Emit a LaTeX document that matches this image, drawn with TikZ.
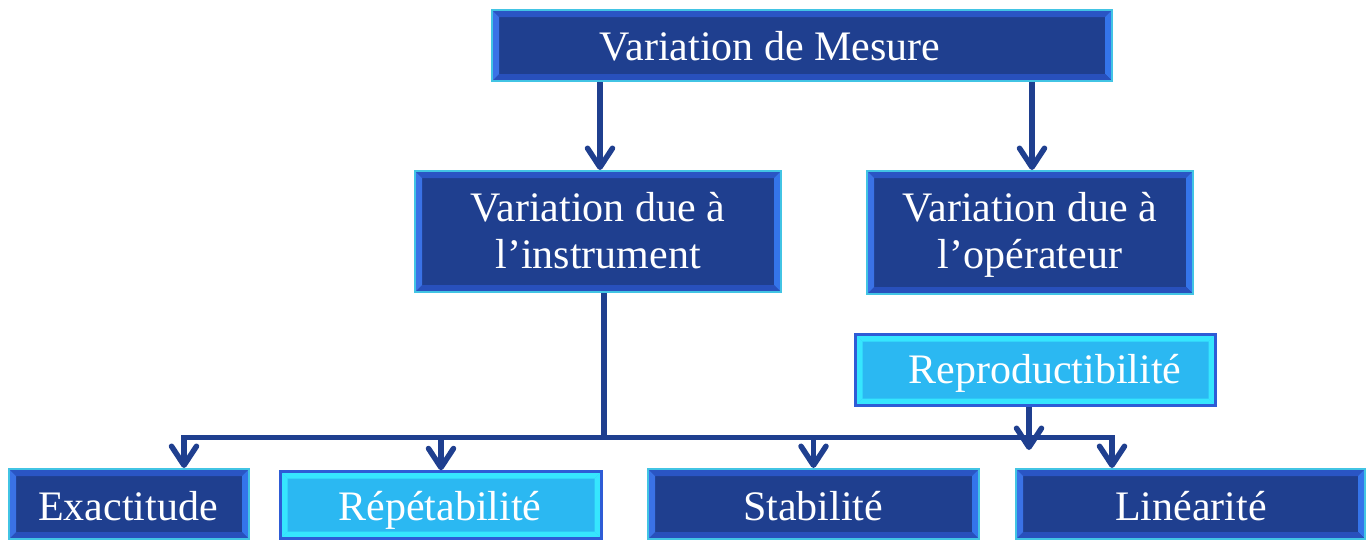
\documentclass[tikz,border=0pt]{standalone}
\usepackage{fontspec}
\setmainfont{Liberation Serif}
\usetikzlibrary{arrows.meta,calc}

\definecolor{dkfill}{HTML}{1F3F8F}
\definecolor{bevtop}{HTML}{2A55C4}
\definecolor{bevleft}{HTML}{3A72E6}
\definecolor{bevbot}{HTML}{2850BC}
\definecolor{bevright}{HTML}{3474EA}
\definecolor{edgecyan}{HTML}{42C4E4}
\definecolor{ltfill}{HTML}{2BB8F2}
\definecolor{ltband}{HTML}{36E6FE}
\definecolor{ltedge}{HTML}{2E5CD6}
\definecolor{wire}{HTML}{1F3F8F}

\tikzset{
  % four bevelled bands inside a box, each with its own shade
  bevel/.style n args={5}{path picture={
    \coordinate (pNW) at (path picture bounding box.north west);
    \coordinate (pNE) at (path picture bounding box.north east);
    \coordinate (pSE) at (path picture bounding box.south east);
    \coordinate (pSW) at (path picture bounding box.south west);
    \fill[#2] (pNW) -- (pNE) -- ([shift={(-#1,-#1)}]pNE) -- ([shift={(#1,-#1)}]pNW) -- cycle;
    \fill[#3] (pNE) -- (pSE) -- ([shift={(-#1,#1)}]pSE) -- ([shift={(-#1,-#1)}]pNE) -- cycle;
    \fill[#4] (pSE) -- (pSW) -- ([shift={(#1,#1)}]pSW) -- ([shift={(-#1,#1)}]pSE) -- cycle;
    \fill[#5] (pSW) -- (pNW) -- ([shift={(#1,-#1)}]pNW) -- ([shift={(#1,#1)}]pSW) -- cycle;
  }},
  dkbox/.style={draw=edgecyan, line width=2pt, fill=dkfill, inner sep=0pt,
    bevel={7pt}{bevtop}{bevright}{bevbot}{bevleft}},
  ltbox/.style={draw=ltedge, line width=2.5pt, fill=ltfill, inner sep=0pt,
    bevel={7pt}{ltband}{ltband}{ltband}{ltband}},
  lbl/.style={text=white, anchor=base, align=center, inner sep=0pt,
    font=\fontsize{42pt}{47pt}\selectfont},
  wireline/.style={draw=wire, line width=5.5pt},
  arr/.style={wireline, -{Straight Barb[length=19pt, width=25pt, round]}},
}

\begin{document}
\begin{tikzpicture}[x=1pt, y=-1pt]
\useasboundingbox (0,0) rectangle (1369,542);

% boxes
\node[dkbox, minimum width=620pt, minimum height=71pt] (top) at (802,45.5) {};
\node[dkbox, minimum width=366pt, minimum height=121pt] (instr) at (598,231.5) {};
\node[dkbox, minimum width=326pt, minimum height=123pt] (oper) at (1030,232.5) {};
\node[ltbox, minimum width=360pt, minimum height=71pt] (repro) at (1035.5,370) {};
\node[dkbox, minimum width=240pt, minimum height=70pt] (exact) at (129,504) {};
\node[ltbox, minimum width=321pt, minimum height=67pt] (repet) at (441,505) {};
\node[dkbox, minimum width=331pt, minimum height=70pt] (stab) at (813.5,504) {};
\node[dkbox, minimum width=349pt, minimum height=70pt] (lin) at (1190.5,504) {};

% texts (two-line labels sit on the baseline of their last line)
\node[lbl] (ttop) at (770,60) {Variation de Mesure};
\node[lbl] (tinstr) at (598,268) {Variation due à\\l’instrument};
\node[lbl] (toper) at (1030,268) {Variation due à\\l’opérateur};
\node[lbl] (trepro) at (1045,383) {Reproductibilité};
\node[lbl] (texact) at (128,520) {Exactitude};
\node[lbl] (trepet) at (440,520) {Répétabilité};
\node[lbl] (tstab) at (813,520) {Stabilité};
\node[lbl] (tlin) at (1191,520) {Linéarité};

% connectors
\coordinate (bus) at (0,437.5);
\coordinate (rend) at (1029,450);

\draw[arr] ([xshift=2pt]instr.north |- top.south) -- ([xshift=2pt]instr.north);
\draw[arr] ([xshift=2pt]oper.north |- top.south) -- ([xshift=2pt]oper.north);

\draw[wireline] ([xshift=6pt]instr.south) -- ([xshift=6pt]instr.south |- bus);
\draw[wireline, line cap=rect] ([xshift=55pt]exact.north |- bus) -- ([xshift=-78.5pt]lin.north |- bus);

\draw[arr] ([xshift=55pt]exact.north |- bus) -- ([xshift=55pt]exact.north);
\draw[arr] (repet.north |- bus) -- (repet.north);
\draw[arr] (stab.north |- bus) -- (stab.north);
\draw[arr] ([xshift=-78.5pt]lin.north |- bus) -- ([xshift=-78.5pt]lin.north);

\draw[arr] ([xshift=-6.5pt]repro.south) -- (rend);
\end{tikzpicture}
\end{document}
